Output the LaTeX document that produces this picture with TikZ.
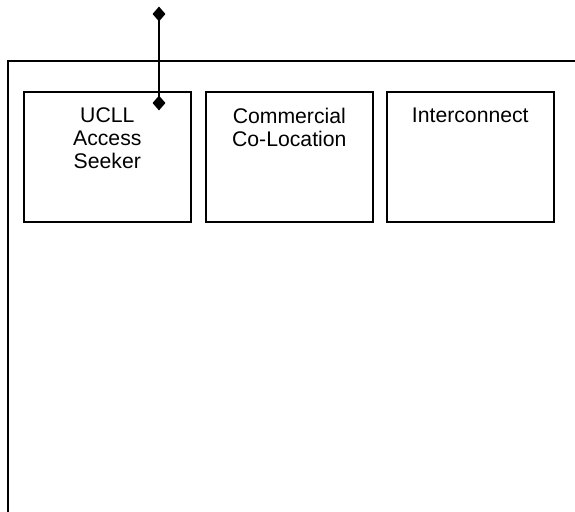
\documentclass[tikz,border=0pt]{standalone}
\usepackage{fontspec}
\setmainfont{Liberation Sans}
\usetikzlibrary{shapes.geometric}
\begin{document}
\begin{tikzpicture}[x=1pt,y=-1pt,
  unitbox/.style={draw=black,line width=1.6pt,minimum width=167pt,minimum height=130pt,
    anchor=north west,inner sep=0pt},
  boxlabel/.style={anchor=north,align=center,inner sep=0pt,
    font=\fontsize{21.2}{23.2}\selectfont},
  endmark/.style={diamond,fill=black,draw=none,minimum width=13pt,minimum height=15pt,inner sep=0pt},
  frameline/.style={line width=1.6pt},
  link/.style={line width=1.6pt}]
\useasboundingbox (0,0) rectangle (575,511);

% enclosing frame, open to the right and bottom
\coordinate (fr) at (576,61);
\coordinate (fc) at (8,61);
\coordinate (fb) at (8,512);
\draw[frameline] (fr) -- (fc) -- (fb);

% units
\node[unitbox] (ucll) at (23,91) {};
\node[unitbox] (colo) at (205,91) {};
\node[unitbox] (inter) at (386,91) {};

\node[boxlabel] (ucllt) at ([yshift=-16.5pt]ucll.north) {UCLL\\Access\\Seeker};
\node[boxlabel] (colot) at ([yshift=-16.5pt]colo.north) {Commercial\\Co-Location};
\node[boxlabel] (intert) at ([yshift=-16.5pt]inter.north) {Interconnect};

% link with diamond ends
\node[endmark] (dtop) at (159,14) {};
\node[endmark] (dbot) at (159,103) {};
\draw[link] (dtop.center) -- (dbot.center);
\end{tikzpicture}
\end{document}
